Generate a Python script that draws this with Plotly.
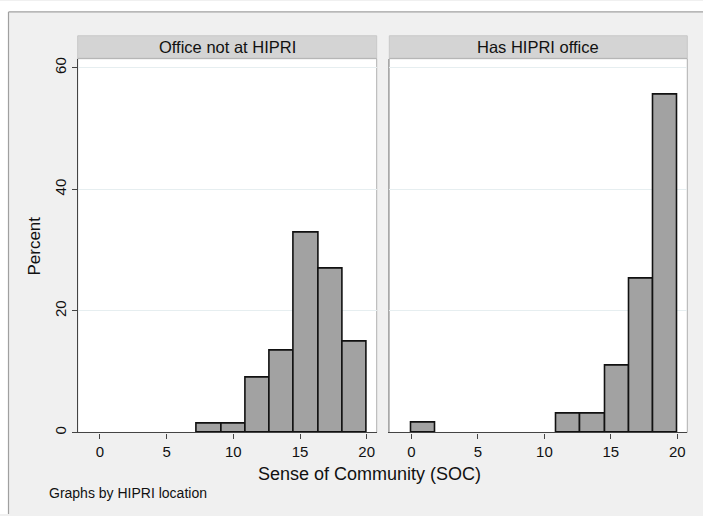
import plotly.graph_objects as go

# ---- data ----
bin_edges = [0, 1.818, 3.636, 5.455, 7.273, 9.091, 10.909, 12.727, 14.545, 16.364, 18.182, 20]
pct_not_hipri = [0, 0, 0, 0, 1.49, 1.49, 8.96, 13.43, 32.84, 26.87, 14.93]
pct_has_hipri = [1.54, 0, 0, 0, 0, 0, 3.08, 3.08, 10.95, 25.3, 55.5]
panel_titles = ["Office not at HIPRI", "Has HIPRI office"]
x_ticks = [0, 5, 10, 15, 20]
y_ticks = [0, 20, 40, 60]
x_title = "Sense of Community (SOC)"
y_title = "Percent"
note = "Graphs by HIPRI location"

W, H = 703, 516
FONT = "Liberation Sans, Arial, sans-serif"

def px(x):
    return x / W

def py(y):
    return 1 - y / H

fig = go.Figure()

for i, vals in enumerate([pct_not_hipri, pct_has_hipri]):
    xs, ws, ys = [], [], []
    for k, v in enumerate(vals):
        if v > 0:
            xs.append((bin_edges[k] + bin_edges[k + 1]) / 2)
            ws.append(bin_edges[k + 1] - bin_edges[k])
            ys.append(v)
    fig.add_trace(go.Bar(
        x=xs, y=ys, width=ws,
        marker=dict(color="#a2a2a2", line=dict(color="#111111", width=1.6)),
        xaxis="x" if i == 0 else "x2",
        yaxis="y" if i == 0 else "y2",
        showlegend=False, hoverinfo="x+y",
    ))

dom_y = [py(434), py(58)]
dom_x1 = [px(77.7), px(376.7)]
dom_x2 = [px(389.3), px(687.3)]

xcommon = dict(range=[-1.67, 20.75], tickvals=x_ticks, ticks="outside", ticklen=5,
               tickcolor="#444444", tickwidth=1, showline=True, linecolor="#444444",
               linewidth=1.2, showgrid=False, zeroline=False,
               tickfont=dict(family=FONT, size=15, color="#111111"), fixedrange=True)
ycommon = dict(range=[0, 61.5], tickvals=y_ticks, showgrid=True, gridcolor="#e6eef0",
               gridwidth=1, zeroline=False, fixedrange=True)

fig.update_layout(
    width=W, height=H,
    margin=dict(l=0, r=0, t=0, b=0),
    paper_bgcolor="#f0f0f0",
    plot_bgcolor="#ffffff",
    bargap=0,
    xaxis=dict(domain=dom_x1, anchor="y", **xcommon),
    xaxis2=dict(domain=dom_x2, anchor="y2", **xcommon),
    yaxis=dict(domain=dom_y, anchor="x", ticks="outside", ticklen=5, tickcolor="#444444",
               showline=True, linecolor="#444444", linewidth=1.2, tickangle=-90,
               tickfont=dict(family=FONT, size=15, color="#111111"), **ycommon),
    yaxis2=dict(domain=dom_y, anchor="x2", showticklabels=False, ticks="",
                showline=True, linecolor="#a8a8a8", linewidth=1, **ycommon),
    font=dict(family=FONT, color="#111111"),
)

shapes = []
# white area outside the outer frame (left and top)
shapes.append(dict(type="rect", xref="paper", yref="paper", x0=0, x1=px(8), y0=0, y1=1,
                   fillcolor="#ffffff", line=dict(width=0), layer="below"))
shapes.append(dict(type="rect", xref="paper", yref="paper", x0=0, x1=1, y0=py(11), y1=1,
                   fillcolor="#ffffff", line=dict(width=0), layer="below"))
# frame lines
shapes.append(dict(type="line", xref="paper", yref="paper", x0=px(8.5), x1=px(8.5), y0=0, y1=py(11),
                   line=dict(color="#a0a0a0", width=1.2)))
shapes.append(dict(type="line", xref="paper", yref="paper", x0=px(8.5), x1=1, y0=py(11), y1=py(11),
                   line=dict(color="#a0a0a0", width=1.2)))

annotations = []
for i, (ax, dom) in enumerate([("x", dom_x1), ("x2", dom_x2)]):
    # strip headers
    shapes.append(dict(type="rect", xref="paper", yref="paper", x0=dom[0], x1=dom[1],
                       y0=py(57.5), y1=py(35), fillcolor="#d4d4d4",
                       line=dict(color="#c8c8c8", width=1), layer="below"))
    # panel border
    yref = "y" if i == 0 else "y2"
    shapes.append(dict(type="rect", xref=ax + " domain", yref=yref + " domain", x0=0, x1=1, y0=0, y1=1,
                       line=dict(color="#b0b0b0", width=1), fillcolor="rgba(0,0,0,0)", layer="below"))
    annotations.append(dict(text=panel_titles[i], xref="paper", yref="paper",
                            x=(dom[0] + dom[1]) / 2, y=py(46.5), showarrow=False,
                            xanchor="center", yanchor="middle",
                            font=dict(family=FONT, size=16.5, color="#111111")))

annotations.append(dict(text=x_title, xref="paper", yref="paper", x=px(369), y=py(476),
                        showarrow=False, xanchor="center", yanchor="middle",
                        font=dict(family=FONT, size=18, color="#111111")))
annotations.append(dict(text=y_title, xref="paper", yref="paper", x=px(35), y=py(247),
                        showarrow=False, xanchor="center", yanchor="middle", textangle=-90,
                        font=dict(family=FONT, size=17, color="#111111")))
annotations.append(dict(text=note, xref="paper", yref="paper", x=px(47), y=py(495),
                        showarrow=False, xanchor="left", yanchor="middle",
                        font=dict(family=FONT, size=14, color="#111111")))

fig.update_layout(shapes=shapes, annotations=annotations)

fig.write_html(
    "out.html",
    config={"displayModeBar": False},
    post_script=("document.body.style.margin='0';document.body.style.overflow='hidden';"
                 "document.body.style.background='#f0f0f0';"),
)
